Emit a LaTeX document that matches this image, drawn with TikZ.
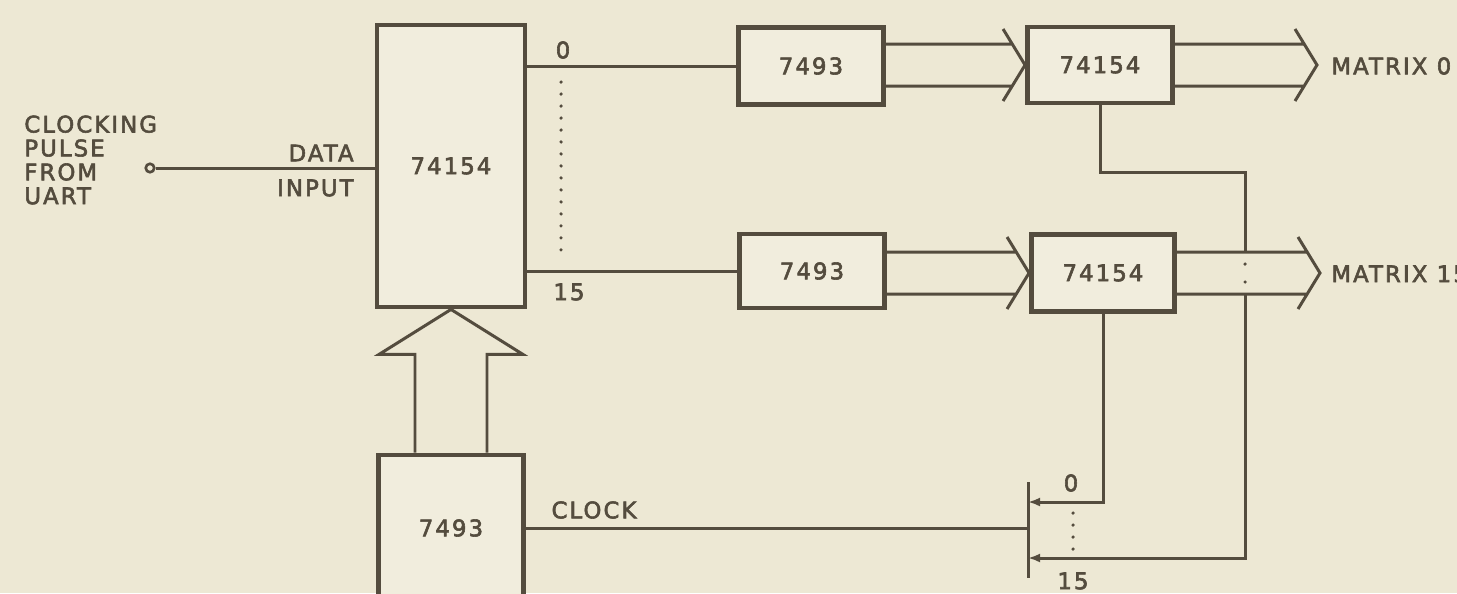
\documentclass[tikz,border=0pt]{standalone}
\usepackage{fontspec}
\usepackage{tikz}
\usetikzlibrary{calc,arrows.meta}
\newfontfamily\lettering{DejaVu Sans}[LetterSpace=9, FakeBold=2.5]
\definecolor{paper}{RGB}{237,232,212}
\definecolor{ink}{RGB}{84,76,62}
\tikzset{
  chip/.style={draw=ink, line width=2.8pt, fill=paper!80!white, inner sep=0pt, text=ink,
    font=\lettering\fontsize{13}{14}\selectfont},
  wire/.style={draw=ink, line width=1.7pt},
  bus/.style={draw=ink, line width=1.7pt, line join=miter},
  lbl/.style={text=ink, inner sep=0pt, font=\lettering\fontsize{13}{13.6}\selectfont},
  dots/.style={draw=ink, line width=2pt, line cap=round, dash pattern=on 0pt off 0.24cm},
  sel/.style={-{Latex[length=0.24cm,width=0.18cm]}},
}
% hollow bus arrow, #1 = start, #2 = tip
\newcommand{\busright}[2]{%
  \draw[bus] ($(#1 |- #2)+(0,-21)$) -- ($(#2)+(-13,-21)$)
    ($(#2)+(-22,-36)$) -- (#2) -- ($(#2)+(-22,36)$)
    ($(#2)+(-13,21)$) -- ($(#1 |- #2)+(0,21)$);}
\begin{document}
\begin{tikzpicture}[x=0.02cm, y=-0.02cm]
\fill[paper] (0,0) rectangle (1457,593);
\useasboundingbox (0,0) rectangle (1457,593);

\node[chip, minimum width=2.96cm, minimum height=5.64cm] (dmux) at (451,166) {74154};
\node[chip, minimum width=2.9cm, minimum height=1.54cm] (cntA) at (811,66) {7493};
\node[chip, minimum width=2.9cm, minimum height=1.48cm] (cntB) at (812,271) {7493};
\node[chip, minimum width=2.9cm, minimum height=1.52cm] (decA) at (1100,65) {74154};
\node[chip, minimum width=2.86cm, minimum height=1.54cm] (decB) at (1103,273) {74154};
\node[chip, minimum width=2.9cm, minimum height=2.92cm] (clk) at (451,528) {7493};

% input from the uart
\node[circle, draw=ink, line width=1.5pt, fill=paper, inner sep=0pt, minimum size=0.17cm] (uart) at (150,168) {};
\node[lbl, anchor=west, align=left] (src) at (24,160) {CLOCKING\\PULSE\\FROM\\UART};
\draw[wire] (uart.east) -- (uart.east -| dmux.west);
\node[lbl, anchor=east] (din1) at (354,153) {DATA};
\node[lbl, anchor=east] (din2) at (354,188) {INPUT};

\draw[wire] (cntA.west -| dmux.east) -- (cntA.west);
\draw[wire] (cntB.west -| dmux.east) -- (cntB.west);
\node[lbl] (q0) at (563,50) {0};
\node[lbl] (q15) at (569,292) {15};
\draw[dots] (561,82) -- (561,258);

\busright{cntA.east}{decA.west}
\busright{cntB.east}{decB.west}
\coordinate (tip0) at (1317,65);
\coordinate (tip15) at (1320,273);
\busright{decA.east}{tip0}
\busright{decB.east}{tip15}
\node[lbl, anchor=west] (mat0) at (1331,66) {MATRIX 0};
\node[lbl, anchor=west] (mat15) at (1331,274) {MATRIX 15};

% counter into the big 74154
\draw[bus] ($(clk.north)+(-36,0)$) -- ($(dmux.south)+(-36,45)$) -- ($(dmux.south)+(-72,45)$)
  -- (dmux.south) -- ($(dmux.south)+(72,45)$) -- ($(dmux.south)+(36,45)$) -- ($(clk.north)+(36,0)$);

% selector
\coordinate (barT) at (1028,482);
\coordinate (barB) at (1028,578);
\coordinate (s0) at (1028,502);
\coordinate (s15) at (1028,558);
\coordinate (rj) at (1245,172);
\draw[wire] (barT) -- (barB);
\draw[wire] (clk.east) -- (clk.east -| barT);
\node[lbl] (clkl) at (594,510) {CLOCK};
\draw[wire, sel] (decB.south) |- (s0);
\draw[wire] (decA.south) |- (rj) -- ($(rj |- decB.east)+(0,-21)$);
\draw[dots, dash pattern=on 0pt off 0.36cm] ($(rj |- decB.east)+(0,-9)$) -- ($(rj |- decB.east)+(0,9)$);
\draw[wire, sel] ($(rj |- decB.east)+(0,21)$) |- (s15);
\node[lbl] (a0) at (1071,483) {0};
\node[lbl] (a15) at (1073,581) {15};
\draw[dots] (1073,513) -- (1073,553);
\end{tikzpicture}
\end{document}
